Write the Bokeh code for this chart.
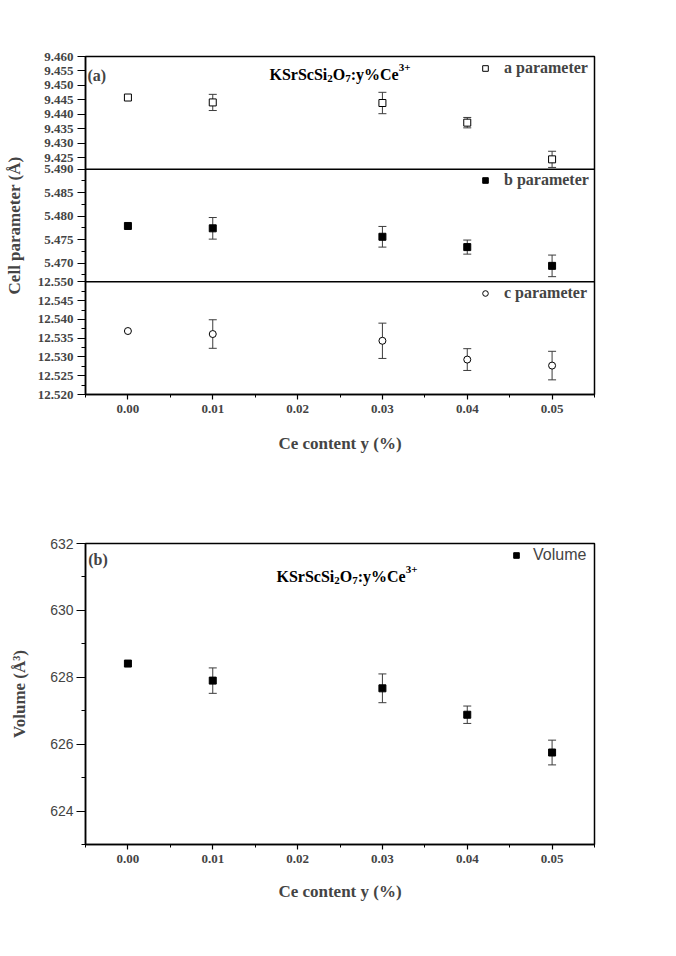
from bokeh.plotting import figure
from bokeh.layouts import column
from bokeh.models import (Range1d, FixedTicker, CustomJSTickFormatter, NumeralTickFormatter,
                          Span, Whisker, TeeHead, ColumnDataSource, Legend, LegendItem, Label)
from bokeh.embed import file_html
from bokeh.resources import INLINE

# ---- data -------------------------------------------------------------
ce = [0.00, 0.01, 0.03, 0.04, 0.05]

a_param = [9.4458, 9.4441, 9.4439, 9.4371, 9.4244]
a_err = [0.0, 0.0028, 0.0037, 0.0018, 0.0028]
b_param = [5.4779, 5.4774, 5.4756, 5.4734, 5.4694]
b_err = [0.0, 0.0023, 0.0022, 0.0015, 0.0023]
c_param = [12.5369, 12.5361, 12.5343, 12.5293, 12.5277]
c_err = [0.0, 0.0038, 0.0047, 0.0029, 0.0038]

volume = [628.41, 627.90, 627.67, 626.88, 625.75]
volume_err = [0.0, 0.38, 0.43, 0.26, 0.37]

x_ticks = [0.00, 0.01, 0.02, 0.03, 0.04, 0.05]
a_ticks = ["9.425", "9.430", "9.435", "9.440", "9.445", "9.450", "9.455", "9.460"]
b_ticks = ["5.470", "5.475", "5.480", "5.485", "5.490"]
c_ticks = ["12.520", "12.525", "12.530", "12.535", "12.540", "12.545", "12.550"]
vol_ticks = [624, 626, 628, 630, 632]

# visible window of each stacked panel (bottom, top)
a_window = (9.421, 9.460)
b_window = (5.466, 5.490)
c_window = (12.520, 12.550)

SERIF = "Liberation Serif"
SANS = "Liberation Sans"
ERR_COLOR = "#3c3c3c"
X_MIN, X_MAX = -0.005, 0.055


def x_minor(ticks):
    step = ticks[1] - ticks[0]
    return [t - step / 2 for t in ticks] + [ticks[-1] + step / 2]


def style_x_axis(ax, standoff):
    ax.ticker = FixedTicker(ticks=x_ticks, minor_ticks=x_minor(x_ticks))
    ax.formatter = NumeralTickFormatter(format="0.00")
    ax.axis_label = "Ce content y (%)"
    ax.axis_label_text_font = SERIF
    ax.axis_label_text_font_style = "bold"
    ax.axis_label_text_font_size = "17px"
    ax.axis_label_standoff = standoff
    ax.major_label_text_font = SERIF
    ax.major_label_text_font_style = "bold"
    ax.major_label_text_font_size = "13px"
    ax.major_label_standoff = 5
    ax.major_tick_in = 0
    ax.major_tick_out = 5
    ax.minor_tick_in = 0
    ax.minor_tick_out = 3
    ax.axis_line_width = 1.5
    ax.major_tick_line_width = 1.2


# Times-Bold advance widths (per 1000 em) for the formula label
ADV = {"K": 778, "S": 556, "r": 444, "c": 444, "i": 278, "O": 778, ":": 333,
       "y": 500, "%": 1000, "C": 722, "e": 444, "2": 500, "7": 500, "3": 500, "+": 570}


def add_formula(p, x0, y0):
    parts = [("KSrScSi", 16, 0), ("2", 11, -4), ("O", 16, 0), ("7", 11, -4),
             (":y%Ce", 16, 0), ("3+", 11, 7)]
    x = x0
    for txt, size, dy in parts:
        p.add_layout(Label(x=x, y=y0 + dy, x_units="screen", y_units="screen", text=txt,
                           text_font=SERIF, text_font_style="bold",
                           text_font_size=f"{size}px", text_baseline="alphabetic",
                           text_color="black"))
        x += sum(ADV[ch] for ch in txt) * size / 1000.0


def add_errors(p, xs, ys, errs, range_name=None):
    keep = [i for i, e in enumerate(errs) if e > 0]
    src = ColumnDataSource(dict(
        x=[xs[i] for i in keep],
        upper=[ys[i] + errs[i] for i in keep],
        lower=[ys[i] - errs[i] for i in keep],
    ))
    kw = {} if range_name is None else {"y_range_name": range_name}
    p.add_layout(Whisker(base="x", upper="upper", lower="lower", source=src,
                         dimension="height", line_color=ERR_COLOR, line_width=1,
                         upper_head=TeeHead(size=8, line_color=ERR_COLOR, line_width=1),
                         lower_head=TeeHead(size=8, line_color=ERR_COLOR, line_width=1),
                         **kw))


def single_legend(label, renderer, loc, font, style, size, standoff=12):
    return Legend(items=[LegendItem(label=label, renderers=[renderer])], location=loc,
                  padding=0, spacing=0, margin=0, glyph_width=14, glyph_height=18,
                  label_height=18, label_standoff=standoff, label_text_font=font,
                  label_text_font_style=style, label_text_font_size=size,
                  background_fill_alpha=0, border_line_alpha=0)


# ---- (a): three stacked cell-parameter panels --------------------------
top = figure(width=676, height=480, output_backend="svg", toolbar_location=None,
             x_range=Range1d(X_MIN, X_MAX), y_range=Range1d(0, 3),
             min_border_left=85, min_border_right=82, min_border_top=56, min_border_bottom=86)
top.grid.visible = False
top.outline_line_color = "black"
top.outline_line_width = 1.5
top.background_fill_color = "white"
top.border_fill_color = "white"

panels = [("a", a_window, 2, a_ticks, False),
          ("b", b_window, 1, b_ticks, True),
          ("c", c_window, 0, c_ticks, True)]

tick_pos, tick_lab, minor_pos = [], [], []
for name, (lo, hi), slot, labels, with_minor in panels:
    span = hi - lo
    top.extra_y_ranges[name] = Range1d(lo - slot * span, hi + (2 - slot) * span)
    vals = [float(t) for t in labels]
    for v, t in zip(vals, labels):
        tick_pos.append(slot + (v - lo) / span)
        tick_lab.append(t)
    if with_minor:
        step = vals[1] - vals[0]
        mids = [v - step / 2 for v in vals if v - step / 2 >= lo]
        minor_pos += [slot + (m - lo) / span for m in mids]

yax = top.yaxis[0]
yax.ticker = FixedTicker(ticks=tick_pos, minor_ticks=minor_pos)
yax.formatter = CustomJSTickFormatter(args=dict(pos=tick_pos, labels=tick_lab), code="""
    let best = 0;
    for (let i = 1; i < pos.length; i++) {
        if (Math.abs(pos[i] - tick) < Math.abs(pos[best] - tick)) best = i;
    }
    return labels[best];
""")
yax.axis_label = "Cell parameter (Å)"
yax.axis_label_text_font = SERIF
yax.axis_label_text_font_style = "bold"
yax.axis_label_text_font_size = "17px"
yax.axis_label_standoff = 11
yax.major_label_text_font = SERIF
yax.major_label_text_font_style = "bold"
yax.major_label_text_font_size = "13px"
yax.major_label_standoff = 4
yax.major_tick_in = 0
yax.major_tick_out = 8
yax.minor_tick_in = 0
yax.minor_tick_out = 4
yax.axis_line_width = 1.5
yax.major_tick_line_width = 1.2

style_x_axis(top.xaxis[0], 18)

for loc in (1, 2):
    top.add_layout(Span(location=loc, dimension="width", line_color="black", line_width=1.5))

add_errors(top, ce, a_param, a_err, "a")
add_errors(top, ce, b_param, b_err, "b")
add_errors(top, ce, c_param, c_err, "c")

ra = top.scatter(ce, a_param, y_range_name="a", marker="square", size=7,
                 fill_color="white", line_color="black", line_width=1)
rb = top.scatter(ce, b_param, y_range_name="b", marker="square", size=7,
                 fill_color="black", line_color="black")
rc = top.scatter(ce, c_param, y_range_name="c", marker="circle", size=7,
                 fill_color="white", line_color="black", line_width=1)

for lab, r, y in (("a parameter", ra, 316.7), ("b parameter", rb, 205), ("c parameter", rc, 91.7)):
    top.add_layout(single_legend(lab, r, (393, y), SERIF, "bold", "16px"))

top.add_layout(Label(x=2, y=319, x_units="screen", y_units="screen", text="(a)",
                     text_font=SERIF, text_font_style="bold", text_font_size="16px",
                     text_baseline="alphabetic"))
add_formula(top, 184, 320)

# ---- (b): cell volume ---------------------------------------------------
bot = figure(width=676, height=476, output_backend="svg", toolbar_location=None,
             x_range=Range1d(X_MIN, X_MAX), y_range=Range1d(623, 632),
             min_border_left=79, min_border_right=80, min_border_top=63, min_border_bottom=112)
bot.grid.visible = False
bot.outline_line_color = "black"
bot.outline_line_width = 1.5
bot.background_fill_color = "white"
bot.border_fill_color = "white"

vax = bot.yaxis[0]
vax.ticker = FixedTicker(ticks=vol_ticks, minor_ticks=[t - 1 for t in vol_ticks])
vax.axis_label = "Volume (Å³)"
vax.axis_label_text_font = SERIF
vax.axis_label_text_font_style = "bold"
vax.axis_label_text_font_size = "17px"
vax.axis_label_standoff = 18
vax.major_label_text_font = SANS
vax.major_label_text_font_size = "14px"
vax.major_label_standoff = 3
vax.major_tick_in = 0
vax.major_tick_out = 9
vax.minor_tick_in = 0
vax.minor_tick_out = 4
vax.axis_line_width = 1.5
vax.major_tick_line_width = 1.2

style_x_axis(bot.xaxis[0], 16)

add_errors(bot, ce, volume, volume_err)
rv = bot.scatter(ce, volume, marker="square", size=7, fill_color="black", line_color="black")
bot.add_layout(single_legend("Volume", rv, (424, 280.3), SANS, "normal", "16px", standoff=10))

bot.add_layout(Label(x=2.7, y=285, x_units="screen", y_units="screen", text="(b)",
                     text_font=SERIF, text_font_style="bold", text_font_size="16px",
                     text_baseline="alphabetic"))
add_formula(bot, 191, 268.3)

page = column(top, bot, spacing=0)
open("out.html", "w").write(file_html(page, INLINE))
